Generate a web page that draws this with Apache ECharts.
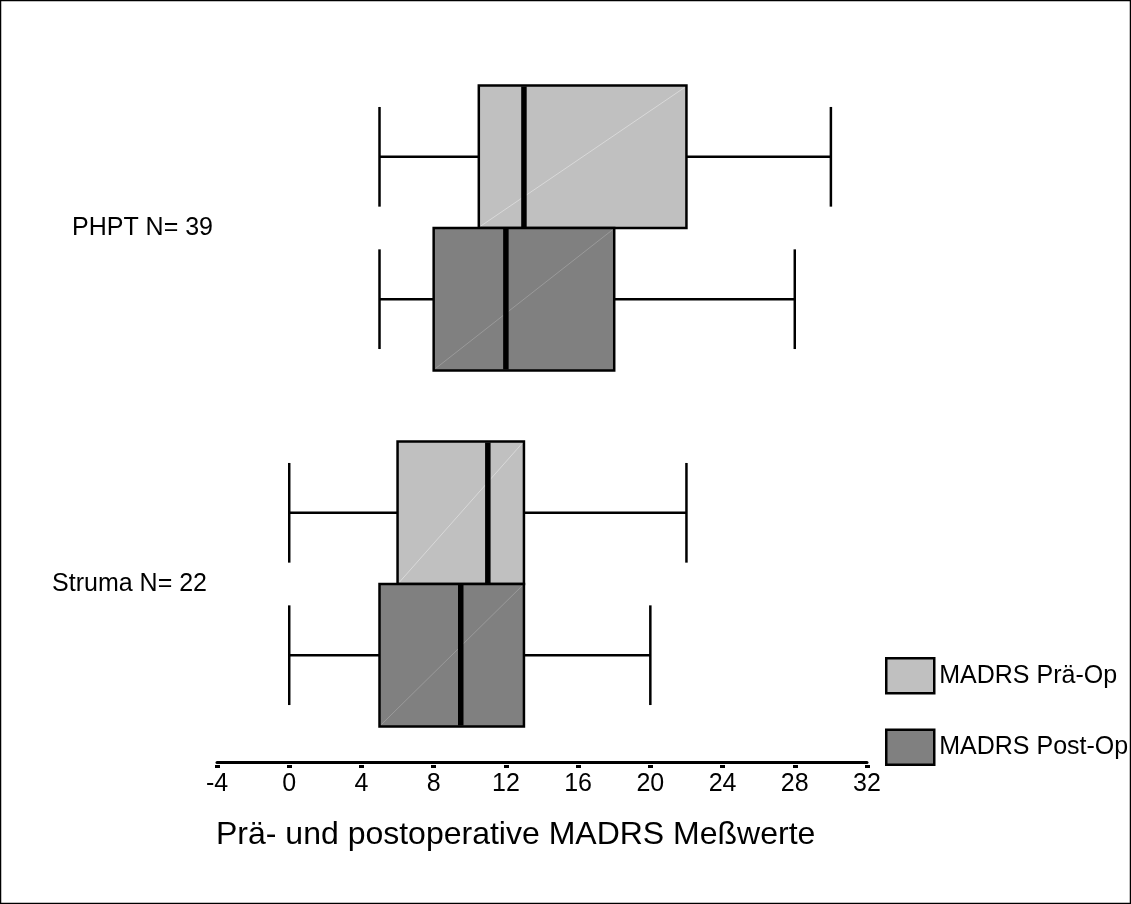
<!DOCTYPE html>
<html>
<head>
<meta charset="utf-8">
<script src="https://cdn.jsdelivr.net/npm/echarts@6/dist/echarts.min.js"></script>
<style>
html,body{margin:0;padding:0;background:#fff;}
#chart{width:1131px;height:904px;}
</style>
</head>
<body>
<div id="chart"></div>
<script>
// ---- data ----
const categories = ['PHPT N= 39', 'Struma N= 22'];
const xTicks = [-4, 0, 4, 8, 12, 16, 20, 24, 28, 32];
// [min, q1, median, q3, max] per category
const preOp = [
  [5, 10.5, 13, 22, 30],
  [0, 6, 11, 13, 22]
];
const postOp = [
  [5, 8, 12, 18, 28],
  [0, 5, 9.5, 13, 20]
];
const seriesNames = ['MADRS Prä-Op', 'MADRS Post-Op'];
const titleText = 'Prä- und postoperative MADRS Meßwerte';

const FONT = '"Liberation Sans", Arial, sans-serif';
const colors = ['#c0c0c0', '#808080'];
const diagColors = ['#d9d9d9', '#9a9a9a'];

function makeRender(side, idx) {
  return function (params, api) {
    const cat = api.value(0);
    const mn = api.value(1), q1 = api.value(2), md = api.value(3), q3 = api.value(4), mx = api.value(5);
    const c = api.coord([0, cat]);
    const band = api.size([0, 1])[1];
    const h = band * 0.4;
    const y0 = side < 0 ? c[1] - h : c[1];
    const yc = y0 + h / 2;
    const capH = band * 0.28;
    const X = v => api.coord([v, cat])[0];
    const lineStyle = { stroke: '#000', lineWidth: 2.5 };
    return {
      type: 'group',
      children: [
        { type: 'line', shape: { x1: X(mn), y1: yc, x2: X(q1), y2: yc }, style: lineStyle },
        { type: 'line', shape: { x1: X(q3), y1: yc, x2: X(mx), y2: yc }, style: lineStyle },
        { type: 'line', shape: { x1: X(mn), y1: yc - capH / 2, x2: X(mn), y2: yc + capH / 2 }, style: lineStyle },
        { type: 'line', shape: { x1: X(mx), y1: yc - capH / 2, x2: X(mx), y2: yc + capH / 2 }, style: lineStyle },
        { type: 'rect', shape: { x: X(q1), y: y0, width: X(q3) - X(q1), height: h }, style: { fill: colors[idx], stroke: '#000', lineWidth: 2.5 } },
        { type: 'line', shape: { x1: X(q1) + 2, y1: y0 + h - 2, x2: X(q3) - 2, y2: y0 + 2 }, style: { stroke: diagColors[idx], lineWidth: 1 } },
        { type: 'line', shape: { x1: X(md), y1: y0 + 1, x2: X(md), y2: y0 + h - 1 }, style: { stroke: '#000', lineWidth: 5.5 } }
      ]
    };
  };
}

const chart = echarts.init(document.getElementById('chart'), null, { renderer: 'canvas' });
chart.setOption({
  animation: false,
  backgroundColor: '#fff',
  textStyle: { fontFamily: FONT },
  title: {
    text: titleText,
    left: 211,
    top: 814,
    textStyle: { fontSize: 32, fontWeight: 'normal', color: '#000', fontFamily: FONT }
  },
  legend: {
    orient: 'vertical',
    left: 880,
    top: 652,
    itemWidth: 48,
    itemHeight: 35,
    itemGap: 34,
    textStyle: { fontSize: 25, color: '#000', fontFamily: FONT },
    data: [
      { name: seriesNames[0], icon: 'rect', itemStyle: { color: colors[0], borderColor: '#000', borderWidth: 2.5 } },
      { name: seriesNames[1], icon: 'rect', itemStyle: { color: colors[1], borderColor: '#000', borderWidth: 2.5 } }
    ]
  },
  grid: { left: 217, right: 264, top: 50, height: 712, containLabel: false },
  xAxis: [{
    type: 'value',
    min: -4, max: 32, interval: 4,
    position: 'bottom',
    axisLine: { show: true, onZero: false, lineStyle: { color: '#000', width: 3 } },
    axisTick: { show: false },
    splitLine: { show: false },
    axisLabel: { show: true, margin: 10, fontSize: 25, color: '#000', fontFamily: FONT,
      formatter: v => (xTicks.indexOf(v) >= 0 ? String(v) : '') }
  }, {
    type: 'value',
    min: -4, max: 32, interval: 4,
    position: 'bottom',
    offset: 3,
    axisLine: { show: false, onZero: false },
    axisTick: { show: true, inside: false, length: 3, lineStyle: { color: '#000', width: 5 } },
    splitLine: { show: false },
    axisLabel: { show: false }
  }],
  yAxis: {
    type: 'category',
    data: categories,
    inverse: true,
    axisLine: { show: false },
    axisTick: { show: false },
    splitLine: { show: false },
    axisLabel: {
      margin: 4,
      color: '#000',
      fontSize: 25,
      fontFamily: FONT,
      formatter: (v, i) => i === 0 ? '{a|' + v + '}' : '{b|' + v + '}',
      rich: {
        a: { fontSize: 25, color: '#000', fontFamily: FONT },
        b: { fontSize: 25, color: '#000', fontFamily: FONT, padding: [0, 6, 0, 0] }
      }
    }
  },
  series: [
    {
      name: seriesNames[0],
      type: 'custom',
      xAxisIndex: 0,
      itemStyle: { color: colors[0], borderColor: '#000' },
      encode: { x: [1, 2, 3, 4, 5], y: 0 },
      renderItem: makeRender(-1, 0),
      data: preOp.map((d, i) => [i].concat(d))
    },
    {
      name: seriesNames[1],
      type: 'custom',
      xAxisIndex: 0,
      itemStyle: { color: colors[1], borderColor: '#000' },
      encode: { x: [1, 2, 3, 4, 5], y: 0 },
      renderItem: makeRender(1, 1),
      data: postOp.map((d, i) => [i].concat(d))
    }
  ],
  graphic: [{
    type: 'rect',
    shape: { x: 0.5, y: 0.5, width: 1130, height: 903 },
    style: { fill: 'none', stroke: '#000', lineWidth: 1.5 },
    silent: true
  }]
});
</script>
</body>
</html>
